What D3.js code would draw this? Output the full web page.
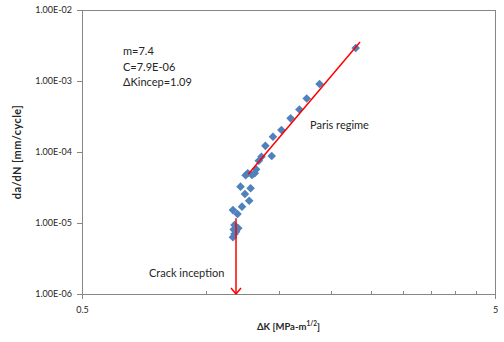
<!DOCTYPE html>
<html>
<head>
<meta charset="utf-8">
<script src="https://cdn.jsdelivr.net/npm/d3@7"></script>
<style>
  html, body { margin: 0; padding: 0; background: #fff; }
  svg { display: block; }
  text { font-family: Lato, "Open Sans", sans-serif; fill: #262626; }
</style>
</head>
<body>
<svg id="chart" width="504" height="342"></svg>
<script>
// ---- data ----
const deltaK = [2.30, 1.88, 1.75, 1.68, 1.60, 1.52, 1.45, 1.39, 1.44, 1.36, 1.34, 1.32, 1.31, 1.26, 1.245, 1.29,
                1.21, 1.28, 1.24, 1.27, 1.22, 1.16, 1.19, 1.17, 1.195, 1.18, 1.17, 1.16, 1.165];
const crackRate = [2.92e-3, 9.08e-4, 5.67e-4, 3.97e-4, 2.98e-4, 2.04e-4, 1.64e-4, 1.22e-4, 8.79e-5, 8.59e-5, 7.54e-5, 5.70e-5, 5.01e-5, 5.01e-5, 4.70e-5, 4.74e-5,
                   3.25e-5, 3.08e-5, 2.56e-5, 2.06e-5, 1.70e-5, 1.52e-5, 1.34e-5, 9.37e-6, 8.42e-6, 7.54e-6, 7.00e-6, 6.29e-6, 8.1e-6];
const fitDeltaK = [1.263, 2.356];
const fitRate = [4.85e-5, 3.54e-3];
const arrowDeltaK = [1.18, 1.18];
const arrowRate = [1.17e-5, 1.0e-6];
const yTickValues = [1e-6, 1e-5, 1e-4, 1e-3, 1e-2];
const yTickLabels = ["1.00E-06", "1.00E-05", "1.00E-04", "1.00E-03", "1.00E-02"];
const xMajorValues = [0.5, 5];
const xMajorLabels = ["0.5", "5"];
const xMinorValues = [1, 1.5, 2, 2.5, 3, 3.5, 4, 4.5];
const infoLines = ["m=7.4", "C=7.9E-06", "\u0394Kincep=1.09"];

// ---- layout ----
const svg = d3.select("#chart");
const L = 82, R = 495, T = 10, B = 294;
const x = d3.scaleLog().domain([0.5, 5]).range([L, R]);
const y = d3.scaleLog().domain([1e-6, 1e-2]).range([B, T]);
const axisColor = "#868686";

// plot area border (top & right)
svg.append("path")
  .attr("d", `M${L},${T}H${R}V${B}`)
  .attr("fill", "none").attr("stroke", axisColor).attr("stroke-width", 1)
  .attr("shape-rendering", "crispEdges");

// y axis
const yAxis = svg.append("g").attr("transform", `translate(${L},0)`)
  .call(d3.axisLeft(y).tickValues(yTickValues)
    .tickFormat((d, i) => yTickLabels[i]).tickSize(5).tickPadding(5));
// x axis major
const xAxis = svg.append("g").attr("transform", `translate(0,${B})`)
  .call(d3.axisBottom(x).tickValues(xMajorValues)
    .tickFormat((d, i) => xMajorLabels[i]).tickSize(5).tickPadding(8));
// x axis minor ticks (inside)
const xMinor = svg.append("g").attr("transform", `translate(0,${B})`)
  .call(d3.axisTop(x).tickValues(xMinorValues).tickFormat("").tickSize(3));
xMinor.select(".domain").remove();

[yAxis, xAxis, xMinor].forEach(g => {
  g.selectAll("path, line").attr("stroke", axisColor).attr("shape-rendering", "crispEdges");
  g.selectAll("text").attr("font-size", 9).attr("fill", "#404040")
    .style("font-family", "Lato, 'Open Sans', sans-serif");
});

// axis titles
svg.append("text")
  .attr("transform", `translate(21,${(T + B) / 2}) rotate(-90)`)
  .attr("text-anchor", "middle").attr("font-size", 11).attr("font-weight", "bold")
  .attr("letter-spacing", 0.4)
  .text("da/dN [mm/cycle]");
const xt = svg.append("text")
  .attr("x", (L + R) / 2).attr("y", 330)
  .attr("text-anchor", "middle").attr("font-size", 9.5).attr("font-weight", "bold");
xt.append("tspan").text("\u0394K [MPa-m");
xt.append("tspan").attr("font-size", 6.5).attr("dy", -4).text("1/2");
xt.append("tspan").attr("dy", 4).text("]");

// data points (diamonds)
const pts = deltaK.map((d, i) => ({ dk: d, r: crackRate[i] }));
const diamond = "M0,-4.3L4.3,0L0,4.3L-4.3,0Z";
svg.append("g").selectAll("path").data(pts).join("path")
  .attr("d", diamond)
  .attr("transform", d => `translate(${x(d.dk)},${y(d.r)})`)
  .attr("fill", "#4F81BD");

// Paris fit line
const fit = fitDeltaK.map((d, i) => ({ dk: d, r: fitRate[i] }));
const lineGen = d3.line().x(d => x(d.dk)).y(d => y(d.r));
svg.append("path").datum(fit).attr("d", lineGen)
  .attr("fill", "none").attr("stroke", "#FF0000").attr("stroke-width", 1.5);

// arrow for crack inception
svg.append("defs").append("marker")
  .attr("id", "arr").attr("viewBox", "-6 -7 12 8").attr("refX", 0).attr("refY", 0)
  .attr("markerWidth", 12).attr("markerHeight", 8).attr("markerUnits", "userSpaceOnUse")
  .attr("orient", "0")
  .append("path").attr("d", "M-5,-6L0,0L5,-6").attr("fill", "none")
  .attr("stroke", "#FF0000").attr("stroke-width", 1.5);
const arrow = arrowDeltaK.map((d, i) => ({ dk: d, r: arrowRate[i] }));
svg.append("path").datum(arrow).attr("d", lineGen)
  .attr("fill", "none").attr("stroke", "#FF0000").attr("stroke-width", 1.5)
  .attr("marker-end", "url(#arr)");

// annotation text
svg.append("g").selectAll("text").data(infoLines).join("text")
  .attr("x", 123).attr("y", (d, i) => 55 + i * 15.5)
  .attr("font-size", 11).text(d => d);
svg.append("text").attr("x", 310).attr("y", 129).attr("font-size", 11).text("Paris regime");
svg.append("text").attr("x", 149).attr("y", 277).attr("font-size", 11).text("Crack inception");
</script>
</body>
</html>
